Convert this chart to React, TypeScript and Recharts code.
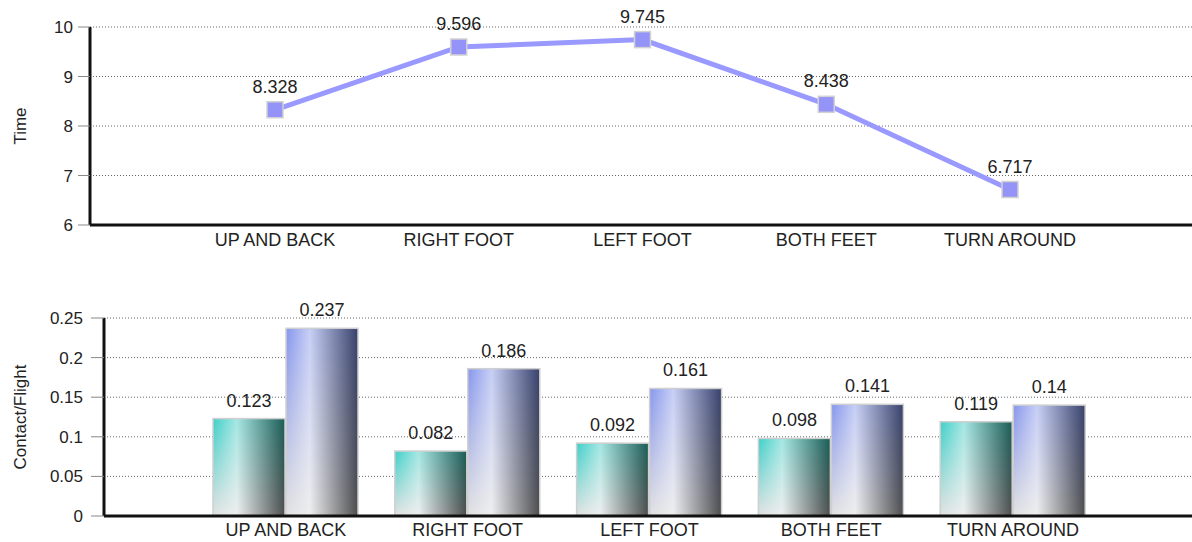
import { LineChart, Line, BarChart, Bar, XAxis, YAxis, CartesianGrid, LabelList } from 'recharts';

// drill names shared by both panels
const categories = ['UP AND BACK', 'RIGHT FOOT', 'LEFT FOOT', 'BOTH FEET', 'TURN AROUND'];
// total time per drill
const timeValues = [8.328, 9.596, 9.745, 8.438, 6.717];
// contact and flight times
const contactValues = [0.123, 0.082, 0.092, 0.098, 0.119];
const flightValues = [0.237, 0.186, 0.161, 0.141, 0.14];

const timeTicks = [6, 7, 8, 9, 10];
const ratioTicks = [0, 0.05, 0.1, 0.15, 0.2, 0.25];

const FONT = '"Liberation Sans", Arial, sans-serif';
const TEXT = '#222';
const AXIS = { stroke: '#111', strokeWidth: 3 };

const timeData = categories.map((name, i) => ({ name, time: timeValues[i] }));
const barData = categories.map((name, i) => ({
  name,
  contact: contactValues[i],
  flight: flightValues[i],
}));

// rotated axis title, centred on the plot height
const axisTitle = (text: string, fallbackY: number) => (props: any) => {
  const vb = props.viewBox || {};
  const cy = vb.height ? vb.y + vb.height / 2 : fallbackY;
  return (
    <text
      x={20}
      y={cy}
      transform={`rotate(-90, 20, ${cy})`}
      textAnchor="middle"
      dominantBaseline="central"
      fontSize={17}
      fill={TEXT}
      fontFamily={FONT}
    >
      {text}
    </text>
  );
};

const SquareDot = (props: any) => {
  const { cx, cy, index } = props;
  if (cx == null || cy == null) return <g key={index} />;
  return (
    <rect
      key={index}
      x={cx - 8}
      y={cy - 8}
      width={16}
      height={16}
      fill="#9494f8"
      stroke="#d2d2d2"
      strokeWidth={1.5}
    />
  );
};

// glossy bar: colour on top fading to grey towards the baseline
const makeBarShape = (gradId: string) => (props: any) => {
  const { x, y, width, height } = props;
  if (!height || height <= 0) return <g />;
  return (
    <g>
      <rect x={x} y={y} width={width} height={height} fill="url(#greyH)" />
      <rect x={x} y={y} width={width} height={height} fill={`url(#${gradId})`} mask="url(#fadeV)" />
      <rect x={x} y={y} width={width} height={height} fill="none" stroke="#cfcfcf" strokeWidth={1.5} />
    </g>
  );
};

function Gradients() {
  return (
    <svg width={0} height={0} style={{ position: 'absolute' }}>
      <defs>
        <linearGradient id="tealH" x1="0" y1="0" x2="1" y2="0">
          <stop offset="0%" stopColor="#3ccfc8" />
          <stop offset="33%" stopColor="#a4e6e2" />
          <stop offset="100%" stopColor="#1a5c56" />
        </linearGradient>
        <linearGradient id="blueH" x1="0" y1="0" x2="1" y2="0">
          <stop offset="0%" stopColor="#8595ec" />
          <stop offset="33%" stopColor="#c6cef5" />
          <stop offset="100%" stopColor="#37416c" />
        </linearGradient>
        <linearGradient id="greyH" x1="0" y1="0" x2="1" y2="0">
          <stop offset="0%" stopColor="#e2e2e2" />
          <stop offset="33%" stopColor="#efefef" />
          <stop offset="100%" stopColor="#4e4e4e" />
        </linearGradient>
        <linearGradient id="vertG" x1="0" y1="0" x2="0" y2="1">
          <stop offset="0%" stopColor="#fff" />
          <stop offset="100%" stopColor="#000" />
        </linearGradient>
        <mask id="fadeV" maskUnits="objectBoundingBox" maskContentUnits="objectBoundingBox" x="0" y="0" width="1" height="1">
          <rect x="0" y="0" width="1" height="1" fill="url(#vertG)" />
        </mask>
      </defs>
    </svg>
  );
}

export default function App() {
  return (
    <div
      style={{
        position: 'absolute',
        left: 0,
        top: 0,
        width: 1192,
        height: 542,
        background: '#fff',
        fontFamily: FONT,
      }}
    >
      <Gradients />
      <LineChart width={1192} height={270} data={timeData} margin={{ top: 27, right: 0, bottom: 0, left: 0 }}>
        <CartesianGrid vertical={false} stroke="#666" strokeDasharray="1 2" />
        <XAxis
          dataKey="name"
          scale="point"
          padding={{ left: 185, right: 182 }}
          height={45}
          interval={0}
          tickLine={false}
          axisLine={AXIS}
          tick={{ fontSize: 18, fill: TEXT, fontFamily: FONT }}
        />
        <YAxis
          width={90}
          domain={[6, 10]}
          ticks={timeTicks}
          interval={0}
          tickSize={12}
          tickMargin={5}
          tickLine={{ stroke: '#888' }}
          axisLine={AXIS}
          tick={{ fontSize: 17, fill: TEXT, fontFamily: FONT }}
          label={{ content: axisTitle('Time', 126) }}
        />
        <Line
          type="linear"
          dataKey="time"
          stroke="#9999ff"
          strokeWidth={5}
          dot={SquareDot}
          activeDot={false}
          isAnimationActive={false}
        >
          <LabelList dataKey="time" position="top" offset={17} fill={TEXT} fontSize={18} fontFamily={FONT} />
        </Line>
      </LineChart>
      <BarChart
        width={1192}
        height={272}
        data={barData}
        margin={{ top: 48, right: 0, bottom: 0, left: 0 }}
        barGap={1}
        barSize={72}
      >
        <CartesianGrid vertical={false} stroke="#666" strokeDasharray="1 2" />
        <XAxis
          dataKey="name"
          padding={{ left: 91, right: 88 }}
          height={26}
          interval={0}
          tickLine={false}
          tickMargin={1}
          axisLine={AXIS}
          tick={{ fontSize: 18, fill: TEXT, fontFamily: FONT }}
        />
        <YAxis
          width={104}
          domain={[0, 0.25]}
          ticks={ratioTicks}
          interval={0}
          tickSize={13}
          tickMargin={8}
          tickLine={{ stroke: '#888' }}
          axisLine={AXIS}
          tickFormatter={(v: number) => String(v)}
          tick={{ fontSize: 17, fill: TEXT, fontFamily: FONT }}
          label={{ content: axisTitle('Contact/Flight', 147) }}
        />
        <Bar dataKey="contact" shape={makeBarShape('tealH')} isAnimationActive={false}>
          <LabelList dataKey="contact" position="top" offset={12} fill={TEXT} fontSize={18} fontFamily={FONT} />
        </Bar>
        <Bar dataKey="flight" shape={makeBarShape('blueH')} isAnimationActive={false}>
          <LabelList dataKey="flight" position="top" offset={12} fill={TEXT} fontSize={18} fontFamily={FONT} />
        </Bar>
      </BarChart>
    </div>
  );
}
